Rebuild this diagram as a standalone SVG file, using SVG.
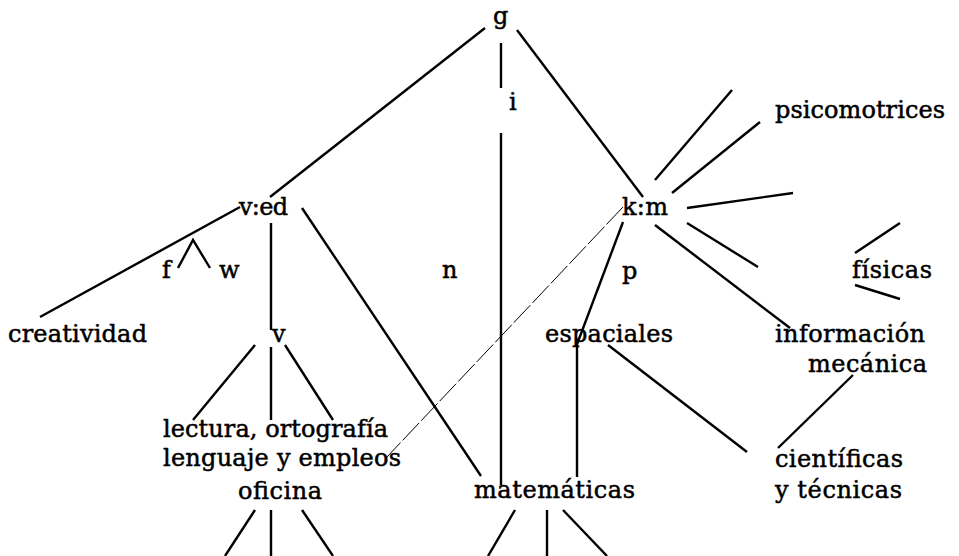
<svg xmlns="http://www.w3.org/2000/svg" width="959" height="556" viewBox="0 0 959 556">
<style>
text{font-family:"DejaVu Serif","Liberation Serif",serif;font-size:24px;fill:#000;stroke:#000;stroke-width:0.5}
.c line,.c polyline{stroke:#000;stroke-width:2.4;fill:none}
.c .d{stroke-width:1;stroke-dasharray:24 3}
</style>
<rect width="959" height="556" fill="#fff"/>
<g class="c" id="connectors">
<line x1="485" y1="28" x2="270" y2="197"/>
<line x1="501" y1="43" x2="501" y2="88"/>
<line x1="501" y1="133" x2="501" y2="485"/>
<line x1="517" y1="30" x2="643" y2="197"/>
<line x1="655" y1="180" x2="732" y2="90"/>
<line x1="672" y1="193" x2="760" y2="122"/>
<line x1="687" y1="208" x2="793" y2="193"/>
<line x1="687" y1="223" x2="758" y2="267"/>
<line x1="655" y1="225" x2="790" y2="328"/>
<line x1="623" y1="222" x2="576" y2="347"/>
<line class="d" x1="623" y1="207" x2="386" y2="458"/>
<line x1="855" y1="253" x2="900" y2="223"/>
<line x1="855" y1="285" x2="900" y2="299"/>
<line x1="577" y1="345" x2="577" y2="477"/>
<line x1="608" y1="345" x2="747" y2="452"/>
<line x1="853" y1="375" x2="778" y2="448"/>
<line x1="515" y1="510" x2="488" y2="556"/>
<line x1="547" y1="510" x2="547" y2="556"/>
<line x1="563" y1="510" x2="607" y2="556"/>
<line x1="302" y1="208" x2="481" y2="476"/>
<line x1="271" y1="223" x2="271" y2="330"/>
<line x1="240" y1="207" x2="40" y2="317"/>
<polyline points="178,268 193,240 210,268"/>
<line x1="255" y1="345" x2="193" y2="420"/>
<line x1="271" y1="347" x2="271" y2="420"/>
<line x1="285" y1="345" x2="333" y2="420"/>
<line x1="255" y1="510" x2="225" y2="556"/>
<line x1="271" y1="510" x2="271" y2="556"/>
<line x1="302" y1="510" x2="333" y2="556"/>
</g>
<g id="n-g"><text x="493" y="24">g</text></g>
<g id="n-i"><text x="509" y="110">i</text></g>
<g id="n-ved"><text x="239" y="215" textLength="49" lengthAdjust="spacing">v:ed</text></g>
<g id="n-km"><text x="622" y="215" textLength="46" lengthAdjust="spacing">k:m</text></g>
<g id="n-psicomotrices"><text x="775" y="118" textLength="170" lengthAdjust="spacing">psicomotrices</text></g>
<g id="n-f"><text x="162" y="278">f</text></g>
<g id="n-w"><text x="219" y="278">w</text></g>
<g id="n-n"><text x="442" y="278">n</text></g>
<g id="n-p"><text x="622" y="279">p</text></g>
<g id="n-fisicas"><text x="852" y="278" textLength="80" lengthAdjust="spacing">físicas</text></g>
<g id="n-creatividad"><text x="8" y="342" textLength="139" lengthAdjust="spacing">creatividad</text></g>
<g id="n-v"><text x="272" y="342">v</text></g>
<g id="n-espaciales"><text x="545" y="342" textLength="128" lengthAdjust="spacing">espaciales</text></g>
<g id="n-informacion"><text x="775" y="342" textLength="150" lengthAdjust="spacing">información</text><text x="808" y="372" textLength="119" lengthAdjust="spacing">mecánica</text></g>
<g id="n-lectura"><text x="163" y="437" textLength="225" lengthAdjust="spacing">lectura, ortografía</text><text x="163" y="466" textLength="238" lengthAdjust="spacing">lenguaje y empleos</text><text x="238" y="499" textLength="84" lengthAdjust="spacing">oficina</text></g>
<g id="n-matematicas"><text x="474" y="498" textLength="161" lengthAdjust="spacing">matemáticas</text></g>
<g id="n-cientificas"><text x="775" y="467" textLength="128" lengthAdjust="spacing">científicas</text><text x="775" y="498" textLength="127" lengthAdjust="spacing">y técnicas</text></g>
</svg>
